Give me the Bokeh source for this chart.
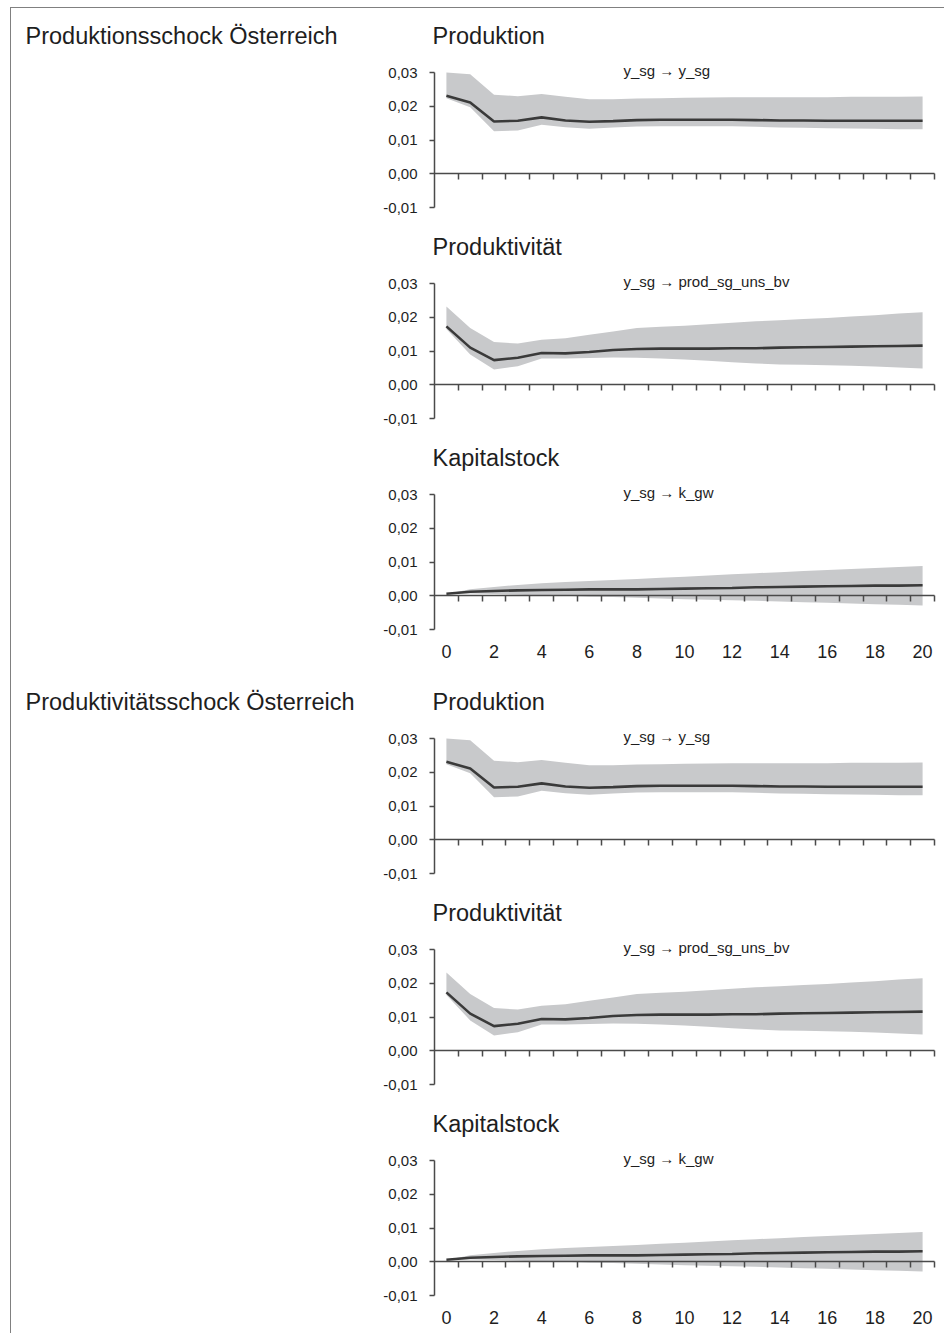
from bokeh.plotting import figure
from bokeh.layouts import column
from bokeh.models import Range1d, LinearAxis, FixedTicker, CustomJSTickFormatter, Label
from bokeh.embed import file_html
from bokeh.resources import INLINE

# ---------------- data ----------------
steps = list(range(21))
x_tick_labels = [0, 2, 4, 6, 8, 10, 12, 14, 16, 18, 20]
y_ticks = [-0.01, 0.0, 0.01, 0.02, 0.03]

group_labels = ["Produktionsschock Österreich", "Produktivitätsschock Österreich"]
panel_titles = ["Produktion", "Produktivität", "Kapitalstock"]
panel_notes = ["y_sg \u2192 y_sg", "y_sg \u2192 prod_sg_uns_bv", "y_sg \u2192 k_gw"]

prod_irf = [0.0231, 0.0211, 0.0155, 0.0157, 0.0167, 0.0158, 0.0154, 0.0156, 0.0159, 0.0160, 0.0160,
            0.0160, 0.0160, 0.0159, 0.0158, 0.0158, 0.0157, 0.0157, 0.0157, 0.0157, 0.0157]
prod_hi = [0.0300, 0.0295, 0.0234, 0.0230, 0.0236, 0.0228, 0.0221, 0.0221, 0.0223, 0.0224, 0.0225,
           0.0226, 0.0227, 0.0227, 0.0227, 0.0227, 0.0227, 0.0228, 0.0228, 0.0228, 0.0229]
prod_lo = [0.0224, 0.0197, 0.0126, 0.0128, 0.0145, 0.0138, 0.0133, 0.0137, 0.0140, 0.0141, 0.0141,
           0.0141, 0.0141, 0.0139, 0.0137, 0.0136, 0.0135, 0.0134, 0.0133, 0.0132, 0.0132]

produkt_irf = [0.0173, 0.0110, 0.0073, 0.0080, 0.0094, 0.0093, 0.0097, 0.0103, 0.0106, 0.0107, 0.0107,
               0.0107, 0.0108, 0.0108, 0.0110, 0.0111, 0.0112, 0.0113, 0.0114, 0.0115, 0.0116]
produkt_hi = [0.0232, 0.0168, 0.0127, 0.0122, 0.0133, 0.0138, 0.0148, 0.0158, 0.0168, 0.0172, 0.0175,
              0.0179, 0.0184, 0.0188, 0.0191, 0.0195, 0.0198, 0.0202, 0.0206, 0.0211, 0.0215]
produkt_lo = [0.0165, 0.0090, 0.0045, 0.0055, 0.0078, 0.0078, 0.0079, 0.0081, 0.0080, 0.0078, 0.0075,
              0.0071, 0.0067, 0.0063, 0.0060, 0.0059, 0.0058, 0.0056, 0.0054, 0.0051, 0.0048]

kap_irf = [0.0006, 0.0012, 0.0014, 0.0016, 0.0017, 0.0018, 0.0019, 0.0019, 0.0019, 0.0020, 0.0021,
           0.0022, 0.0023, 0.0025, 0.0026, 0.0027, 0.0028, 0.0029, 0.0030, 0.0030, 0.0031]
kap_hi = [0.0005, 0.0019, 0.0026, 0.0032, 0.0037, 0.0041, 0.0044, 0.0047, 0.0050, 0.0053, 0.0056,
          0.0060, 0.0064, 0.0067, 0.0070, 0.0073, 0.0076, 0.0079, 0.0082, 0.0085, 0.0088]
kap_lo = [0.0005, 0.0007, 0.0005, 0.0003, 0.0001, 0.0000, -0.0003, -0.0004, -0.0006, -0.0008, -0.0010,
          -0.0012, -0.0013, -0.0015, -0.0017, -0.0019, -0.0021, -0.0023, -0.0025, -0.0027, -0.0029]

# ---------------- style / layout constants ----------------
FONT = "Liberation Sans"
BAND = "#c8c9cb"
LINE = "#3a3a3a"
AXIS = "#4a4a4a"
TEXT = "#1e1e1e"

FIG_W = 933          # figure width in px
PLOT_LEFT = 423      # px from figure left edge to the y axis
PLOT_W = 500         # px covered by the 21 periods
PLOT_H = 135         # px covered by -0.01 .. 0.03
TOP_PAD = 64         # px above the 0.03 level
X0, X1 = -0.5, 20.5
Y0, Y1 = -0.01, 0.03
PX_X = PLOT_W / (X1 - X0)
PX_Y = PLOT_H / (Y1 - Y0)

half_ticks = [s + 0.5 for s in steps]


def make_panel(title, note, irf, lo, hi, bottom_pad, x_labels, group_label=None):
    height = TOP_PAD + PLOT_H + bottom_pad
    xr = Range1d(X0 - PLOT_LEFT / PX_X, X1 + (FIG_W - PLOT_LEFT - PLOT_W) / PX_X)
    yr = Range1d(Y0 - bottom_pad / PX_Y, Y1 + TOP_PAD / PX_Y)
    p = figure(width=FIG_W, height=height, x_range=xr, y_range=yr,
               output_backend="svg", toolbar_location=None,
               x_axis_location=None, y_axis_location=None,
               min_border=0)
    p.outline_line_color = None
    p.background_fill_color = "white"
    p.border_fill_color = "white"
    p.grid.visible = False

    p.varea(x=steps, y1=lo, y2=hi, fill_color=BAND, fill_alpha=1.0)
    p.line(steps, irf, line_color=LINE, line_width=2.6)

    yax = LinearAxis(ticker=FixedTicker(ticks=y_ticks, minor_ticks=[]),
                     formatter=CustomJSTickFormatter(code="return tick.toFixed(2).replace('.', ',');"),
                     fixed_location=X0, bounds=(Y0, Y1),
                     axis_line_color=AXIS, axis_line_width=1.5,
                     major_tick_line_color=AXIS, major_tick_line_width=1.5,
                     major_tick_in=0, major_tick_out=5, minor_tick_line_color=None,
                     major_label_standoff=12, major_label_text_font=FONT,
                     major_label_text_font_size="15px", major_label_text_color=TEXT)
    p.add_layout(yax, "left")

    if x_labels:
        lax = LinearAxis(ticker=FixedTicker(ticks=x_tick_labels, minor_ticks=[]),
                         fixed_location=Y0,
                         axis_line_color=None, major_tick_line_color=None,
                         minor_tick_line_color=None, major_tick_in=0, major_tick_out=0,
                         major_label_standoff=15,
                         major_label_text_font=FONT, major_label_text_font_size="18px",
                         major_label_text_color=TEXT)
        p.add_layout(lax, "below")

    tax = LinearAxis(ticker=FixedTicker(ticks=half_ticks, minor_ticks=[]),
                     formatter=CustomJSTickFormatter(code="return '';"),
                     fixed_location=0, bounds=(X0, X1),
                     axis_line_color=AXIS, axis_line_width=1.5,
                     major_tick_line_color=AXIS, major_tick_line_width=1.5,
                     major_tick_in=0, major_tick_out=6,
                     minor_tick_line_color=None, major_label_standoff=0)
    p.add_layout(tax, "below")

    p.add_layout(Label(x=X0 - 2 / PX_X, y=Y1 + 37 / PX_Y, text=title, text_font=FONT,
                       text_font_size="23.5px", text_color=TEXT, text_baseline="middle"))
    p.add_layout(Label(x=X0 + 189 / PX_X, y=Y1 + 2 / PX_Y, text=note, text_font=FONT,
                       text_font_size="15px", text_color=TEXT, text_baseline="middle"))
    if group_label is not None:
        p.add_layout(Label(x=X0 - 409 / PX_X, y=Y1 + 36.5 / PX_Y, text=group_label, text_font=FONT,
                           text_font_size="23.5px", text_color=TEXT, text_baseline="middle"))
    return p


figs = []
for g, glabel in enumerate(group_labels):
    last_pad = 45 if g == 0 else 38
    figs.append(make_panel(panel_titles[0], panel_notes[0], prod_irf, prod_lo, prod_hi,
                           12, False, glabel))
    figs.append(make_panel(panel_titles[1], panel_notes[1], produkt_irf, produkt_lo, produkt_hi,
                           12, False))
    figs.append(make_panel(panel_titles[2], panel_notes[2], kap_irf, kap_lo, kap_hi,
                           last_pad, True))

layout = column(*figs, spacing=0,
                styles={"margin-left": "10px", "margin-top": "7px",
                        "border-left": "1px solid #808080", "border-top": "1px solid #808080"})

open("out.html", "w").write(file_html(layout, INLINE))
